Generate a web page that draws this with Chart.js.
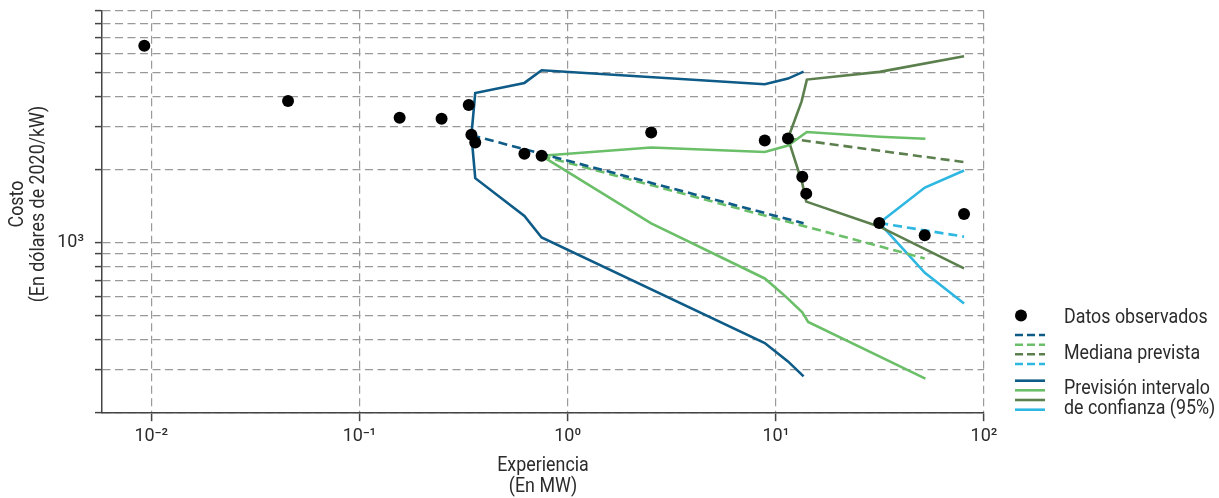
<!DOCTYPE html>
<html>
<head>
<meta charset="utf-8">
<script src="https://cdn.jsdelivr.net/npm/chart.js@4.4.1/dist/chart.umd.min.js"></script>
<style>
html,body{margin:0;padding:0;background:#ffffff;}
#wrap{width:1219px;height:498px;position:relative;}
canvas{display:block;}
</style>
</head>
<body>
<div id="wrap"><canvas id="chart" width="1219" height="498"></canvas></div>
<script>
// ---------- data ----------
const xTicks = [0.01, 0.1, 1, 10, 100];
const xTickLabels = ['10\u207B\u00B2', '10\u207B\u00B9', '10\u2070', '10\u00B9', '10\u00B2'];
const yTicks = [200, 300, 400, 500, 600, 700, 800, 900, 1000, 2000, 3000, 4000, 5000, 6000, 7000, 8000, 9000];
const yTickLabels = ['', '', '', '', '', '', '', '', '10\u00B3', '', '', '', '', '', '', '', ''];

const xTitle = ['Experiencia', '(En MW)'];
const yTitle = ['Costo', '(En dólares de 2020/kW)'];
const legendLabels = ['Datos observados', 'Mediana prevista', 'Previsión intervalo', 'de confianza (95%)'];

// observed data
const obsX = [0.00926, 0.0454, 0.156, 0.248, 0.335, 0.345, 0.360, 0.620, 0.750, 2.52, 8.85, 11.44, 13.4, 14.0, 31.4, 51.9, 80.2];
const obsY = [6456, 3830, 3268, 3236, 3687, 2780, 2584, 2322, 2278, 2842, 2634, 2685, 1866, 1592, 1206, 1073, 1313];

// forecast from 0.345 MW (dark blue)
const blueMedX = [0.345, 13.6];
const blueMedY = [2770, 1202];
const blueUpX = [0.345, 0.36, 0.62, 0.75, 8.85, 11.44, 13.6];
const blueUpY = [2770, 4130, 4542, 5119, 4483, 4732, 5057];
const blueLoX = [0.345, 0.36, 0.62, 0.75, 8.85, 11.44, 13.6];
const blueLoY = [2770, 1843, 1289, 1051, 387, 325, 282];

// forecast from 0.75 MW (light green)
const lgMedX = [0.75, 51.9];
const lgMedY = [2278, 862];
const lgUpX = [0.75, 2.52, 8.85, 11.44, 14.1, 31.5, 52.3];
const lgUpY = [2278, 2465, 2360, 2512, 2853, 2729, 2677];
const lgLoX = [0.75, 2.52, 8.85, 11.2, 13.4, 14.3, 52.3];
const lgLoY = [2278, 1202, 713, 599, 518, 472, 276];

// forecast from 11.44 MW (dark green)
const dgMedX = [11.44, 80.2];
const dgMedY = [2685, 2146];
const dgUpX = [11.44, 13.3, 14.1, 31.5, 80.2];
const dgUpY = [2685, 3814, 4688, 5043, 5848];
const dgLoX = [11.44, 13.4, 14.0, 31.5, 80.2];
const dgLoY = [2685, 1758, 1476, 1164, 784];

// forecast from 31.4 MW (cyan)
const cyMedX = [31.4, 80.2];
const cyMedY = [1206, 1059];
const cyUpX = [31.4, 52.0, 80.2];
const cyUpY = [1206, 1686, 1981];
const cyLoX = [31.4, 52.0, 80.2];
const cyLoY = [1206, 752, 562];

// ---------- styles ----------
const FONT = "Roboto, 'Liberation Sans', sans-serif";
const NARROW = 0.85;
const C_BLUE = '#0f5b87';
const C_LGREEN = '#6bbf68';
const C_DGREEN = '#5c7f4e';
const C_CYAN = '#2db7e1';
const seriesColors = [C_BLUE, C_LGREEN, C_DGREEN, C_CYAN];
const DASH = [9, 5];
const TEXT = '#2b2b2b';

function pts(xs, ys) { return xs.map((x, i) => ({x: x, y: ys[i]})); }
function lineDs(label, xs, ys, color, dashed) {
  return {
    label: label, data: pts(xs, ys), showLine: true, fill: false,
    borderColor: color, backgroundColor: color, borderWidth: 2.6,
    borderDash: dashed ? DASH : [], pointRadius: 0, pointHoverRadius: 0,
    tension: 0, order: 1, borderCapStyle: 'butt', borderJoinStyle: 'miter'
  };
}

const datasets = [
  {label: 'Datos observados', data: pts(obsX, obsY), showLine: false,
   pointRadius: 6, pointHoverRadius: 6, pointBackgroundColor: '#000', pointBorderWidth: 0,
   borderColor: '#000', order: 0},
  lineDs('blue med', blueMedX, blueMedY, C_BLUE, true),
  lineDs('blue up', blueUpX, blueUpY, C_BLUE, false),
  lineDs('blue lo', blueLoX, blueLoY, C_BLUE, false),
  lineDs('lg med', lgMedX, lgMedY, C_LGREEN, true),
  lineDs('lg up', lgUpX, lgUpY, C_LGREEN, false),
  lineDs('lg lo', lgLoX, lgLoY, C_LGREEN, false),
  lineDs('dg med', dgMedX, dgMedY, C_DGREEN, true),
  lineDs('dg up', dgUpX, dgUpY, C_DGREEN, false),
  lineDs('dg lo', dgLoX, dgLoY, C_DGREEN, false),
  lineDs('cy med', cyMedX, cyMedY, C_CYAN, true),
  lineDs('cy up', cyUpX, cyUpY, C_CYAN, false),
  lineDs('cy lo', cyLoX, cyLoY, C_CYAN, false)
];

// condensed text helper
function narrowText(ctx, text, x, y, align) {
  ctx.save();
  ctx.translate(x, y);
  ctx.scale(NARROW, 1);
  ctx.textAlign = align;
  ctx.fillText(text, 0, 0);
  ctx.restore();
}

// axis titles + legend drawn on the canvas
const extras = {
  id: 'extras',
  afterDraw(chart) {
    const ctx = chart.ctx;
    const area = chart.chartArea;
    ctx.save();
    ctx.fillStyle = TEXT;
    ctx.font = '21px ' + FONT;
    ctx.textBaseline = 'middle';
    // x title
    const cx = (area.left + area.right) / 2;
    narrowText(ctx, xTitle[0], cx, 466, 'center');
    narrowText(ctx, xTitle[1], cx, 486.5, 'center');
    // y title
    ctx.save();
    ctx.translate(0, 204);
    ctx.rotate(-Math.PI / 2);
    narrowText(ctx, yTitle[0], 0, 18, 'center');
    narrowText(ctx, yTitle[1], 0, 39, 'center');
    ctx.restore();
    ctx.restore();

    // legend
    ctx.save();
    const lx0 = 1015, lx1 = 1045, tx = 1064;
    ctx.fillStyle = '#000';
    ctx.beginPath();
    ctx.arc(1021, 315.5, 6, 0, Math.PI * 2);
    ctx.fill();
    ctx.lineWidth = 2.6;
    const dashY = [335, 344.7, 354.3, 364];
    const solidY = [380.7, 390.3, 400, 409.7];
    seriesColors.forEach((c, i) => {
      ctx.strokeStyle = c;
      ctx.setLineDash([8, 4]);
      ctx.beginPath(); ctx.moveTo(lx0, dashY[i]); ctx.lineTo(lx1, dashY[i]); ctx.stroke();
      ctx.setLineDash([]);
      ctx.beginPath(); ctx.moveTo(lx0, solidY[i]); ctx.lineTo(lx1, solidY[i]); ctx.stroke();
    });
    ctx.fillStyle = TEXT;
    ctx.font = '21px ' + FONT;
    ctx.textBaseline = 'alphabetic';
    narrowText(ctx, legendLabels[0], tx, 323.3, 'left');
    narrowText(ctx, legendLabels[1], tx, 358.5, 'left');
    narrowText(ctx, legendLabels[2], tx, 394, 'left');
    narrowText(ctx, legendLabels[3], tx, 414, 'left');
    ctx.restore();
  }
};

const gridCommon = {color: '#999999', lineWidth: 1.2, tickColor: '#444444', tickWidth: 1.5};

new Chart(document.getElementById('chart'), {
  type: 'scatter',
  data: {datasets: datasets},
  options: {
    responsive: false,
    animation: false,
    devicePixelRatio: 1,
    layout: {padding: {left: 0, right: 235, top: 0, bottom: 0}},
    plugins: {legend: {display: false}, tooltip: {enabled: false}},
    elements: {line: {tension: 0}},
    scales: {
      x: {
        type: 'logarithmic', position: 'bottom', min: 0.0058, max: 100,
        afterBuildTicks: s => { s.ticks = xTicks.map(v => ({value: v})); },
        afterFit: s => { s.height = 498 - 412.7; s.paddingLeft = 0; s.paddingRight = 0; },
        ticks: {
          autoSkip: false, maxRotation: 0, minRotation: 0, padding: 4, color: TEXT,
          font: {family: FONT, size: 18},
          callback: (v, i) => xTickLabels[i]
        },
        grid: Object.assign({tickLength: 8.5}, gridCommon),
        border: {display: true, color: '#444444', width: 1.5, dash: [8, 4.5]}
      },
      y: {
        type: 'logarithmic', position: 'left', min: 200, max: 9000,
        afterBuildTicks: s => { s.ticks = yTicks.map(v => ({value: v})); },
        afterFit: s => { s.width = 102; s.paddingTop = 10.7; s.paddingBottom = 0; },
        ticks: {
          autoSkip: false, padding: 11, color: TEXT,
          font: {family: FONT, size: 18},
          callback: (v, i) => yTickLabels[i]
        },
        grid: Object.assign({tickLength: 7}, gridCommon),
        border: {display: true, color: '#444444', width: 1.5, dash: [8, 4.5]}
      }
    }
  },
  plugins: [extras]
});
</script>
</body>
</html>
